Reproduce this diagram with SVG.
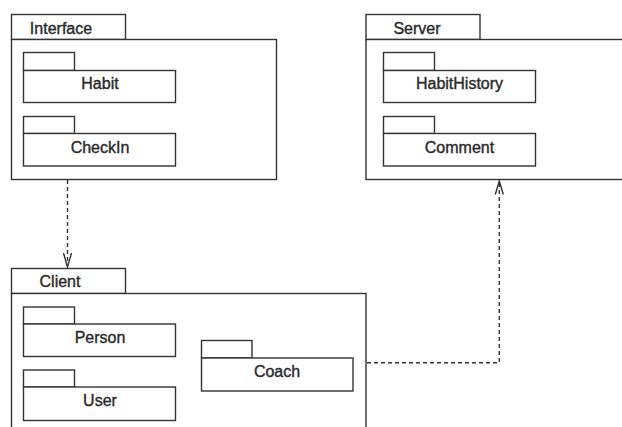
<svg xmlns="http://www.w3.org/2000/svg" width="622" height="427" viewBox="0 0 622 427">
  <style>
    .box { fill: #ffffff; stroke: #333333; stroke-width: 1.4; }
    .lbl { font-family: "Liberation Sans", Arial, Helvetica, sans-serif; font-size: 16px; fill: #2b2b2b; stroke: #2b2b2b; stroke-width: 0.4; text-anchor: middle; }
    .dep { fill: none; stroke: #333333; stroke-width: 1.4; stroke-dasharray: 4 3; }
    .head { fill: none; stroke: #333333; stroke-width: 1.4; }
  </style>
  <rect width="622" height="427" fill="#ffffff"/>

  <!-- Interface package -->
  <g id="interface">
    <rect class="box" x="11.5" y="14.5" width="114" height="25"/>
    <rect class="box" x="11.5" y="39.5" width="265" height="140"/>
    <text class="lbl" x="61" y="34">Interface</text>
  </g>
  <g id="habit">
    <rect class="box" x="23.5" y="52.5" width="51" height="18"/>
    <rect class="box" x="23.5" y="70.5" width="152" height="32"/>
    <text class="lbl" x="100" y="88.5">Habit</text>
  </g>
  <g id="checkin">
    <rect class="box" x="23.5" y="116.5" width="51" height="17"/>
    <rect class="box" x="23.5" y="133.5" width="152" height="32.5"/>
    <text class="lbl" x="100" y="152.7">CheckIn</text>
  </g>

  <!-- Server package -->
  <g id="server">
    <rect class="box" x="366" y="14.5" width="114" height="25"/>
    <rect class="box" x="366" y="39.5" width="266" height="140"/>
    <text class="lbl" x="417" y="34">Server</text>
  </g>
  <g id="habithistory">
    <rect class="box" x="383.5" y="52.5" width="51" height="18"/>
    <rect class="box" x="383.5" y="70.5" width="152" height="32"/>
    <text class="lbl" x="459.5" y="88.5">HabitHistory</text>
  </g>
  <g id="comment">
    <rect class="box" x="383.5" y="116.5" width="51" height="17"/>
    <rect class="box" x="383.5" y="133.5" width="152" height="32.5"/>
    <text class="lbl" x="459.5" y="152.7">Comment</text>
  </g>

  <!-- Client package -->
  <g id="client">
    <rect class="box" x="11.5" y="268.5" width="114" height="25"/>
    <rect class="box" x="11.5" y="293.5" width="354.5" height="150"/>
    <text class="lbl" x="60" y="287">Client</text>
  </g>
  <g id="person">
    <rect class="box" x="23.5" y="307" width="51" height="17"/>
    <rect class="box" x="23.5" y="324" width="152" height="32.5"/>
    <text class="lbl" x="100" y="343">Person</text>
  </g>
  <g id="user">
    <rect class="box" x="23.5" y="370" width="51" height="17"/>
    <rect class="box" x="23.5" y="387" width="152" height="33.5"/>
    <text class="lbl" x="100" y="405.7">User</text>
  </g>
  <g id="coach">
    <rect class="box" x="201.5" y="340.5" width="50.5" height="17.5"/>
    <rect class="box" x="201.5" y="358" width="151.5" height="33"/>
    <text class="lbl" x="277" y="376.7">Coach</text>
  </g>

  <!-- Dependencies -->
  <g id="connectors">
    <path class="dep" d="M67.5 180 V266"/>
    <path class="head" d="M63.5 253 L67.5 267 L71.5 253"/>
    <path class="dep" d="M367 362.7 H499.3 V182"/>
    <path class="head" d="M495.3 194.5 L499.3 181 L503.3 194.5"/>
  </g>
</svg>
